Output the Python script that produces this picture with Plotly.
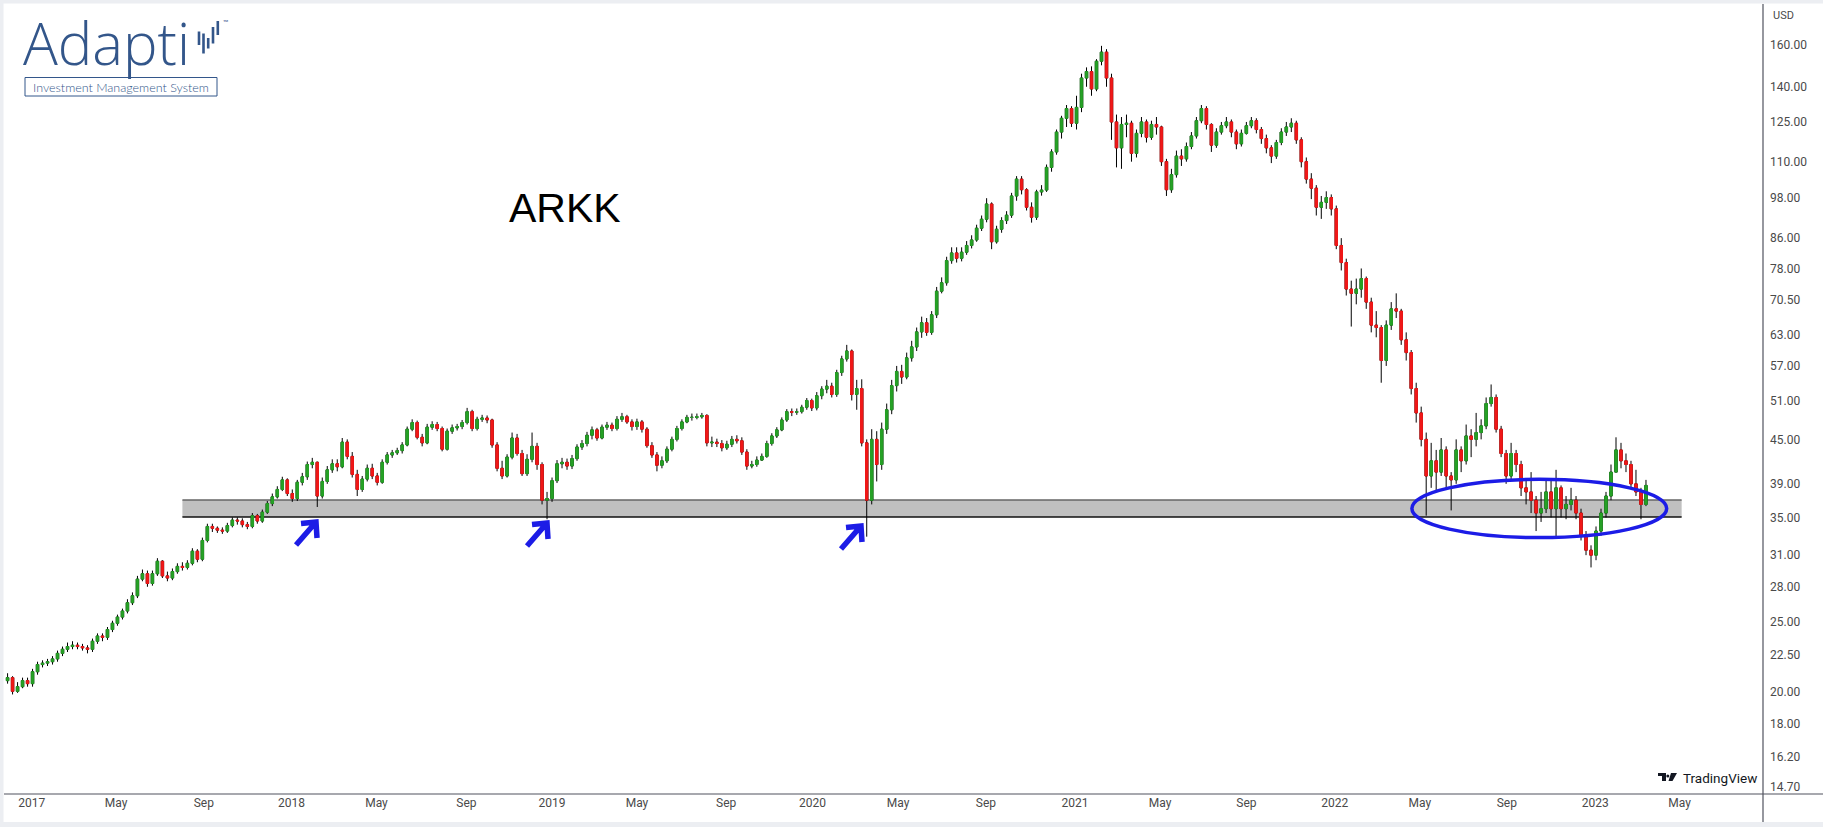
import math
import pandas as pd
import plotly.graph_objects as go

# ---------------- data: weekly OHLC of ARKK ----------------
week_start = "2016-11-30"   # first weekly bar (weeks centred on Wednesdays)

open_2016 = [20.7, 20.9, 20.0, 20.3, 20.7]
high_2016 = [21.2, 21.0, 20.6, 20.9, 20.9]
low_2016 = [20.5, 19.8, 19.9, 20.2, 20.3]
close_2016 = [20.9, 20.0, 20.3, 20.7, 20.5]

open_2017 = [20.5, 21.3, 21.8, 21.9, 22.0, 22.2, 22.6, 22.9, 23.1, 23.2, 23.1, 23.0, 22.9, 23.5, 23.9, 23.8, 24.4, 24.9,
             25.4, 25.9, 26.6, 27.2, 28.7, 29.2, 28.3, 29.2, 30.4, 29.0, 28.8, 29.4, 29.9, 29.8, 30.2, 31.4, 30.6, 32.5,
             34.0, 33.8, 33.6, 33.5, 34.1, 34.7, 34.6, 34.2, 34.0, 35.2, 34.6, 35.6, 36.6, 37.4, 38.3, 39.5]
high_2017 = [21.5, 22.0, 22.1, 22.2, 22.4, 22.8, 23.1, 23.4, 23.5, 23.4, 23.3, 23.2, 23.7, 24.1, 24.1, 24.6, 25.1, 25.6,
             26.1, 26.9, 27.5, 29.0, 29.6, 29.5, 29.5, 30.7, 30.5, 29.4, 29.7, 30.2, 30.3, 30.5, 31.7, 31.6, 32.8, 34.3,
             34.3, 34.0, 33.9, 34.4, 35.0, 35.0, 34.9, 34.5, 35.5, 35.4, 35.9, 36.9, 37.8, 38.7, 39.9, 39.7]
low_2017 = [20.3, 21.1, 21.6, 21.7, 21.8, 22.0, 22.4, 22.7, 22.9, 22.9, 22.8, 22.6, 22.7, 23.3, 23.5, 23.6, 24.2, 24.7,
            25.2, 25.7, 26.4, 27.0, 28.5, 28.0, 28.1, 29.0, 28.8, 28.5, 28.6, 29.2, 29.5, 29.6, 30.0, 30.3, 30.4, 32.3,
            33.4, 33.3, 33.2, 33.3, 33.9, 34.2, 33.9, 33.7, 33.8, 34.3, 34.4, 35.4, 36.3, 37.2, 38.1, 37.5]
close_2017 = [21.3, 21.8, 21.9, 22.0, 22.2, 22.6, 22.9, 23.1, 23.2, 23.1, 23.0, 22.9, 23.5, 23.9, 23.8, 24.4, 24.9, 25.4,
              25.9, 26.6, 27.2, 28.7, 29.2, 28.3, 29.2, 30.4, 29.0, 28.8, 29.4, 29.9, 29.8, 30.2, 31.4, 30.6, 32.5, 34.0,
              33.8, 33.6, 33.5, 34.1, 34.7, 34.6, 34.2, 34.0, 35.2, 34.6, 35.6, 36.6, 37.4, 38.3, 39.5, 37.8]

open_2018 = [37.8, 37.2, 39.2, 39.9, 41.5, 41.8, 37.5, 39.3, 40.8, 41.6, 41.2, 44.6, 42.6, 40.2, 38.3, 39.6, 41.0, 40.0,
             39.2, 41.8, 42.8, 43.1, 43.4, 44.2, 46.5, 47.5, 45.3, 44.5, 46.8, 47.2, 46.6, 43.6, 46.2, 46.7, 46.9, 47.5,
             49.2, 46.6, 48.0, 48.2, 47.9, 44.2, 41.0, 40.0, 42.5, 45.2, 43.0, 40.3, 42.2, 44.0, 41.5, 37.0]
high_2018 = [38.3, 39.5, 40.4, 41.9, 42.4, 41.9, 39.8, 41.3, 42.2, 42.2, 45.2, 45.0, 43.2, 40.8, 40.0, 41.5, 41.6, 40.4,
             42.2, 43.2, 43.5, 43.8, 44.6, 46.9, 48.0, 47.8, 45.8, 47.3, 47.7, 47.6, 46.9, 46.6, 47.2, 47.3, 47.9, 49.8,
             49.5, 48.4, 48.7, 48.6, 48.1, 44.6, 42.0, 42.9, 46.0, 45.8, 43.5, 42.9, 46.0, 44.5, 41.8, 38.0]
low_2018 = [36.8, 36.9, 38.8, 39.5, 41.0, 36.2, 37.2, 39.0, 40.4, 40.6, 41.0, 42.2, 39.8, 37.5, 38.0, 39.3, 39.6, 38.8,
            39.0, 41.5, 42.4, 42.8, 43.0, 44.0, 46.2, 45.0, 44.0, 44.3, 46.4, 46.2, 43.3, 43.4, 45.8, 46.3, 46.5, 47.2,
            46.2, 46.3, 47.6, 47.4, 43.8, 40.6, 39.6, 39.8, 42.2, 42.7, 40.0, 40.0, 41.8, 40.8, 36.5, 34.8]
close_2018 = [37.2, 39.2, 39.9, 41.5, 41.8, 37.5, 39.3, 40.8, 41.6, 41.2, 44.6, 42.6, 40.2, 38.3, 39.6, 41.0, 40.0, 39.2,
              41.8, 42.8, 43.1, 43.4, 44.2, 46.5, 47.5, 45.3, 44.5, 46.8, 47.2, 46.6, 43.6, 46.2, 46.7, 46.9, 47.5, 49.2,
              46.6, 48.0, 48.2, 47.9, 44.2, 41.0, 40.0, 42.5, 45.2, 43.0, 40.3, 42.2, 44.0, 41.5, 37.0, 37.2]

open_2019 = [37.2, 39.4, 41.6, 41.8, 41.3, 42.3, 43.9, 44.4, 45.6, 46.4, 45.2, 46.8, 47.1, 46.6, 48.0, 48.4, 47.6, 46.9,
             47.6, 46.5, 44.1, 42.8, 41.4, 42.0, 43.6, 45.0, 46.6, 47.6, 48.3, 48.3, 48.4, 48.6, 44.5, 44.6, 44.4, 43.8,
             44.3, 45.0, 44.8, 43.2, 41.3, 41.5, 42.1, 42.6, 44.4, 45.5, 46.4, 47.9, 49.2, 49.1, 49.2, 49.9, 51.0]
high_2019 = [39.8, 42.1, 42.4, 42.3, 42.8, 44.3, 44.9, 46.1, 46.9, 46.7, 47.2, 47.6, 47.5, 48.5, 49.0, 48.7, 48.0, 48.1,
             47.9, 46.8, 44.6, 43.2, 42.6, 44.0, 45.4, 47.0, 48.0, 48.7, 48.9, 48.9, 49.0, 48.8, 45.4, 45.1, 44.9, 44.8,
             45.5, 45.6, 45.3, 43.6, 42.0, 42.6, 43.0, 44.8, 45.9, 46.8, 48.3, 49.6, 49.7, 49.7, 50.3, 51.4, 51.3]
low_2019 = [36.8, 39.1, 41.0, 40.8, 40.9, 42.0, 43.5, 44.0, 45.0, 44.8, 45.0, 46.4, 46.2, 46.3, 47.6, 47.3, 46.3, 46.4,
            46.0, 43.8, 42.4, 40.6, 41.0, 41.7, 43.3, 44.7, 46.3, 47.4, 47.8, 48.0, 48.1, 44.0, 43.9, 43.9, 43.3, 43.5,
            43.9, 44.4, 42.8, 40.8, 41.0, 41.2, 42.0, 42.4, 44.1, 45.2, 46.2, 47.6, 48.5, 48.7, 48.9, 49.5, 49.3]
close_2019 = [39.4, 41.6, 41.8, 41.3, 42.3, 43.9, 44.4, 45.6, 46.4, 45.2, 46.8, 47.1, 46.6, 48.0, 48.4, 47.6, 46.9, 47.6,
              46.5, 44.1, 42.8, 41.4, 42.0, 43.6, 45.0, 46.6, 47.6, 48.3, 48.3, 48.4, 48.6, 44.5, 44.6, 44.4, 43.8, 44.3,
              45.0, 44.8, 43.2, 41.3, 41.5, 42.1, 42.6, 44.4, 45.5, 46.4, 47.9, 49.2, 49.1, 49.2, 49.9, 51.0, 49.8]

open_2020 = [49.8, 51.8, 52.9, 53.4, 52.0, 55.8, 58.3, 59.8, 52.0, 53.0, 44.5, 37.0, 45.0, 41.5, 46.5, 49.5, 53.5, 56.0,
             55.0, 58.5, 60.6, 63.6, 65.5, 63.5, 67.2, 72.5, 74.5, 80.0, 82.0, 80.6, 82.2, 84.0, 85.5, 88.8, 91.4, 96.0,
             85.0, 88.5, 91.0, 92.6, 98.5, 104.0, 100.5, 95.0, 92.0, 99.8, 100.4, 108.0, 113.5, 121.0, 126.5, 130.5]
high_2020 = [52.4, 53.4, 54.5, 54.0, 56.3, 58.9, 61.0, 60.1, 54.5, 54.6, 45.0, 46.5, 46.2, 47.5, 50.5, 54.5, 57.0, 57.2,
             59.5, 61.8, 64.5, 66.8, 66.5, 68.0, 73.5, 75.8, 81.0, 83.5, 83.5, 83.5, 85.2, 86.8, 89.8, 92.5, 97.8, 96.5,
             89.5, 92.0, 93.8, 99.5, 105.0, 105.0, 101.0, 96.5, 100.5, 102.0, 109.0, 114.5, 122.0, 127.5, 132.0, 131.5]
low_2020 = [49.4, 51.2, 52.2, 51.5, 51.6, 55.2, 57.8, 51.0, 49.5, 44.0, 32.9, 36.5, 39.3, 40.8, 45.8, 48.8, 52.5, 53.8,
            54.6, 57.8, 59.8, 62.4, 62.8, 63.0, 66.5, 72.0, 73.8, 79.2, 79.5, 79.8, 81.5, 83.2, 85.0, 88.0, 90.5, 83.0,
            84.5, 87.5, 90.0, 91.8, 97.0, 99.0, 94.0, 90.4, 91.2, 98.6, 99.8, 106.5, 112.5, 118.5, 123.0, 123.0]
close_2020 = [51.8, 52.9, 53.4, 52.0, 55.8, 58.3, 59.8, 52.0, 53.0, 44.5, 37.0, 45.0, 41.5, 46.5, 49.5, 53.5, 56.0, 55.0,
              58.5, 60.6, 63.6, 65.5, 63.5, 67.2, 72.5, 74.5, 80.0, 82.0, 80.6, 82.2, 84.0, 85.5, 88.8, 91.4, 96.0, 85.0,
              88.5, 91.0, 92.6, 98.5, 104.0, 100.5, 95.0, 92.0, 99.8, 100.4, 108.0, 113.5, 121.0, 126.5, 130.5, 124.5]

open_2021 = [124.5, 131.0, 144.0, 147.0, 139.0, 152.0, 156.5, 144.0, 125.0, 115.0, 124.0, 124.5, 113.0, 120.5, 125.0,
             119.0, 124.0, 123.0, 110.0, 100.5, 105.5, 112.0, 111.0, 115.5, 119.5, 125.5, 130.5, 124.0, 116.0, 121.0,
             123.5, 125.0, 121.0, 116.5, 120.5, 123.5, 125.5, 122.0, 118.5, 115.0, 112.0, 117.0, 121.0, 123.0, 124.5,
             118.0, 110.0, 104.0, 101.0, 95.0, 96.5, 98.0]
high_2021 = [136.0, 146.0, 149.0, 149.5, 153.0, 159.7, 158.0, 146.0, 128.0, 127.0, 128.0, 125.5, 122.0, 127.0, 126.0,
             125.5, 127.0, 123.5, 111.0, 107.5, 114.0, 114.5, 117.0, 121.0, 127.0, 132.0, 131.5, 124.5, 122.5, 125.0,
             127.0, 126.0, 122.0, 122.0, 125.0, 127.0, 126.5, 123.0, 120.0, 116.0, 118.0, 122.5, 125.0, 126.5, 125.5,
             119.0, 111.5, 106.0, 102.0, 98.5, 100.0, 99.0]
low_2021 = [122.0, 129.0, 140.0, 136.0, 138.0, 150.0, 140.0, 118.0, 108.0, 107.5, 119.0, 110.0, 111.5, 119.0, 117.0,
            118.0, 120.0, 108.5, 98.5, 99.5, 104.5, 108.5, 110.0, 114.5, 118.5, 124.5, 122.0, 113.5, 115.0, 120.0,
            122.5, 119.0, 114.5, 115.5, 120.0, 122.5, 120.5, 116.5, 113.0, 109.5, 111.0, 116.0, 119.5, 121.0, 116.5,
            108.0, 102.5, 97.5, 92.5, 91.5, 94.5, 92.5]
close_2021 = [131.0, 144.0, 147.0, 139.0, 152.0, 156.5, 144.0, 125.0, 115.0, 124.0, 124.5, 113.0, 120.5, 125.0, 119.0,
              124.0, 123.0, 110.0, 100.5, 105.5, 112.0, 111.0, 115.5, 119.5, 125.5, 130.5, 124.0, 116.0, 121.0, 123.5,
              125.0, 121.0, 116.5, 120.5, 123.5, 125.5, 122.0, 118.5, 115.0, 112.0, 117.0, 121.0, 123.0, 124.5, 118.0,
              110.0, 104.0, 101.0, 95.0, 96.5, 98.0, 94.5]

open_2022 = [94.5, 84.0, 79.5, 73.0, 72.0, 73.0, 75.5, 70.0, 65.0, 64.5, 58.0, 65.0, 68.5, 68.0, 62.0, 59.5, 53.0, 49.0,
             45.0, 40.0, 42.0, 40.5, 43.5, 40.0, 39.5, 43.5, 42.0, 45.5, 45.0, 46.0, 47.0, 50.5, 51.5, 46.5, 43.0, 40.0,
             43.0, 41.5, 38.5, 38.0, 37.0, 35.5, 36.0, 38.0, 36.0, 38.5, 36.0, 36.5, 37.0, 35.5, 33.0, 31.5]
high_2022 = [95.5, 86.0, 80.5, 75.0, 75.5, 78.0, 76.0, 71.0, 68.0, 65.0, 66.0, 70.0, 72.0, 68.5, 63.5, 60.0, 54.0, 50.0,
             46.0, 44.5, 43.5, 45.2, 44.0, 40.5, 45.0, 44.0, 47.2, 46.5, 49.0, 48.0, 51.5, 53.7, 52.0, 47.0, 43.5, 44.5,
             43.5, 42.0, 39.5, 40.5, 37.5, 38.0, 39.5, 39.5, 40.8, 38.8, 37.5, 38.5, 37.5, 36.0, 33.5, 32.0]
low_2022 = [83.0, 77.5, 71.5, 64.7, 69.5, 71.0, 68.5, 63.5, 62.5, 54.0, 57.0, 64.0, 66.5, 61.0, 58.0, 52.0, 47.5, 44.0,
            35.2, 38.5, 38.0, 40.0, 38.5, 35.8, 39.0, 40.5, 41.5, 42.5, 44.0, 45.0, 46.5, 50.0, 46.0, 42.5, 39.0, 39.5,
            40.5, 37.5, 36.5, 35.5, 33.5, 34.5, 35.5, 35.0, 32.7, 35.0, 34.8, 35.8, 34.8, 32.5, 31.0, 29.8]
close_2022 = [84.0, 79.5, 73.0, 72.0, 73.0, 75.5, 70.0, 65.0, 64.5, 58.0, 65.0, 68.5, 68.0, 62.0, 59.5, 53.0, 49.0, 45.0,
              40.0, 42.0, 40.5, 43.5, 40.0, 39.5, 43.5, 42.0, 45.5, 45.0, 46.0, 47.0, 50.5, 51.5, 46.5, 43.0, 40.0, 43.0,
              41.5, 38.5, 38.0, 37.0, 35.5, 36.0, 38.0, 36.0, 38.5, 36.0, 36.5, 37.0, 35.5, 33.0, 31.5, 31.0]

open_2023 = [31.0, 33.5, 35.5, 37.5, 40.5, 43.5, 42.0, 41.5, 39.0, 38.0, 36.5]
high_2023 = [34.0, 36.0, 38.0, 41.5, 45.3, 44.5, 43.0, 42.0, 40.8, 38.5, 39.5]
low_2023 = [30.5, 33.0, 35.0, 37.0, 40.5, 41.0, 40.5, 38.5, 37.5, 34.8, 36.3]
close_2023 = [33.5, 35.5, 37.5, 40.5, 43.5, 42.0, 41.5, 39.0, 38.0, 36.5, 38.8]

# support band, highlight ellipse and arrow targets
band_low, band_high = 35.05, 37.03
band_start, band_end = "2017-08-02", "2023-05-04"
ellipse_x = ["2022-04-21", "2023-04-13"]
ellipse_y = [32.8, 39.57]

price_ticks = [160, 140, 125, 110, 98, 86, 78, 70.5, 63, 57, 51, 45, 39, 35, 31, 28, 25, 22.5, 20, 18, 16.2, 14.7]
time_ticks = ["2017-01-03", "2017-05-01", "2017-09-01", "2018-01-02", "2018-05-01", "2018-09-04",
              "2019-01-02", "2019-05-01", "2019-09-03", "2020-01-02", "2020-05-01", "2020-09-01",
              "2021-01-04", "2021-05-03", "2021-09-01", "2022-01-03", "2022-05-02", "2022-09-01",
              "2023-01-03", "2023-05-01"]
time_labels = ["2017", "May", "Sep", "2018", "May", "Sep", "2019", "May", "Sep", "2020", "May", "Sep",
               "2021", "May", "Sep", "2022", "May", "Sep", "2023", "May"]

# ---------------- assemble ----------------
opens = open_2016 + open_2017 + open_2018 + open_2019 + open_2020 + open_2021 + open_2022 + open_2023
highs = high_2016 + high_2017 + high_2018 + high_2019 + high_2020 + high_2021 + high_2022 + high_2023
lows = low_2016 + low_2017 + low_2018 + low_2019 + low_2020 + low_2021 + low_2022 + low_2023
closes = close_2016 + close_2017 + close_2018 + close_2019 + close_2020 + close_2021 + close_2022 + close_2023
dates = pd.date_range(week_start, periods=len(closes), freq="7D")
body_top = [max(o, c) for o, c in zip(opens, closes)]
body_bot = [min(o, c) for o, c in zip(opens, closes)]
wick_top = [max(h, t) for h, t in zip(highs, body_top)]
wick_bot = [min(l, b) for l, b in zip(lows, body_bot)]

W, H = 1823, 827
PL, PR, PT, PB = 4, 1763, 4, 794          # plot area in pixels


def px(x):
    return (x - PL) / (PR - PL)


def py(y):
    return (PB - y) / (PB - PT)


GREEN = "#26a126"
RED = "#f01818"
BLUE = "#1c1ce6"
LOGO = "#33568a"

fig = go.Figure()
# black wicks (and black body underlay)
fig.add_trace(go.Candlestick(
    x=dates, open=opens, high=wick_top, low=wick_bot, close=closes,
    increasing=dict(line=dict(color="#000000", width=1), fillcolor="#000000"),
    decreasing=dict(line=dict(color="#000000", width=1), fillcolor="#000000"),
    whiskerwidth=0, hoverinfo="skip", showlegend=False))
# coloured bodies
fig.add_trace(go.Candlestick(
    x=dates, open=opens, high=body_top, low=body_bot, close=closes,
    increasing=dict(line=dict(color=GREEN, width=1), fillcolor=GREEN),
    decreasing=dict(line=dict(color=RED, width=1), fillcolor=RED),
    whiskerwidth=0, showlegend=False, name="ARKK"))

shapes = []
# support band
shapes.append(dict(type="rect", xref="x", yref="y", x0=band_start, x1=band_end, y0=band_low, y1=band_high,
                   fillcolor="#c0c0c0", line=dict(width=0), layer="below"))
shapes.append(dict(type="line", xref="x", yref="y", x0=band_start, x1=band_end, y0=band_high, y1=band_high,
                   line=dict(color="#666666", width=1.6), layer="below"))
shapes.append(dict(type="line", xref="x", yref="y", x0=band_start, x1=band_end, y0=band_low, y1=band_low,
                   line=dict(color="#111111", width=1.6), layer="below"))
# ellipse
shapes.append(dict(type="circle", xref="x", yref="y", x0=ellipse_x[0], x1=ellipse_x[1],
                   y0=ellipse_y[0], y1=ellipse_y[1], line=dict(color=BLUE, width=3.5)))

# arrows (pixel geometry of the hand-drawn marks)
for tipx, tipy in [(316, 522), (547, 523), (861, 526)]:
    tail = (tipx - 20, tipy + 23)
    arm_l = (tipx - 15, tipy + 1.5)
    arm_d = (tipx + 1, tipy + 16)
    path = (f"M {px(tail[0])},{py(tail[1])} L {px(tipx)},{py(tipy)} "
            f"M {px(arm_l[0])},{py(arm_l[1])} L {px(tipx)},{py(tipy)} L {px(arm_d[0])},{py(arm_d[1])}")
    shapes.append(dict(type="path", xref="paper", yref="paper", path=path, line=dict(color=BLUE, width=5.5)))

# page frame and axis lines
FRAME = "#eceef2"
shapes.append(dict(type="rect", xref="paper", yref="paper", x0=px(0), x1=px(W), y0=py(0), y1=py(PT - 0.5),
                   fillcolor=FRAME, line=dict(width=0)))
shapes.append(dict(type="rect", xref="paper", yref="paper", x0=px(0), x1=px(PL - 0.5), y0=py(H), y1=py(0),
                   fillcolor=FRAME, line=dict(width=0)))
shapes.append(dict(type="rect", xref="paper", yref="paper", x0=px(0), x1=px(W), y0=py(H), y1=py(822),
                   fillcolor=FRAME, line=dict(width=0)))
shapes.append(dict(type="line", xref="paper", yref="paper", x0=px(PL), x1=px(W), y0=py(PB), y1=py(PB),
                   line=dict(color="#50535e", width=1.2)))
shapes.append(dict(type="line", xref="paper", yref="paper", x0=px(PR), x1=px(PR), y0=py(PT), y1=py(822),
                   line=dict(color="#50535e", width=1.2)))

# logo: bars forming the "v"
for bx, y0, y1 in [(199, 31.5, 45), (203.5, 33.5, 53.5), (208.2, 38, 48.5), (213, 27, 43.5), (217.8, 21, 35)]:
    shapes.append(dict(type="line", xref="paper", yref="paper", x0=px(bx), x1=px(bx), y0=py(y0), y1=py(y1),
                       line=dict(color=LOGO, width=2.6)))
shapes.append(dict(type="rect", xref="paper", yref="paper", x0=px(25), x1=px(217), y0=py(96), y1=py(77.5),
                   line=dict(color=LOGO, width=1)))
# TradingView mark
tv_path = (f"M {px(1658)},{py(773)} L {px(1666)},{py(773)} L {px(1666)},{py(781)} L {px(1662)},{py(781)} "
           f"L {px(1662)},{py(776)} L {px(1658)},{py(776)} Z "
           f"M {px(1671)},{py(773)} L {px(1677)},{py(773)} L {px(1672.5)},{py(781)} L {px(1668.5)},{py(781)} Z")
shapes.append(dict(type="path", xref="paper", yref="paper", path=tv_path, fillcolor="#131722",
                   line=dict(width=0)))
shapes.append(dict(type="circle", xref="paper", yref="paper", x0=px(1666.3), x1=px(1669.3), y0=py(777.5),
                   y1=py(774.5), fillcolor="#131722", line=dict(width=0)))

annotations = [
    dict(text="ARKK", xref="paper", yref="paper", x=px(565), y=py(208), showarrow=False,
         font=dict(family="Liberation Sans, Arial, sans-serif", size=41, color="#000000"),
         xanchor="center", yanchor="middle"),
    dict(text="Adapti", xref="paper", yref="paper", x=px(21), y=py(42), showarrow=False,
         font=dict(family="Open Sans, sans-serif", size=58, color=LOGO, weight=300),
         xanchor="left", yanchor="middle"),
    dict(text="™", xref="paper", yref="paper", x=px(221), y=py(22), showarrow=False,
         font=dict(family="Lato, sans-serif", size=7, color=LOGO), xanchor="left", yanchor="middle"),
    dict(text="Investment Management System", xref="paper", yref="paper", x=px(121), y=py(87),
         showarrow=False, font=dict(family="Lato, sans-serif", size=12.5, color=LOGO, weight=300),
         xanchor="center", yanchor="middle"),
    dict(text="TradingView", xref="paper", yref="paper", x=px(1681), y=py(777.5), showarrow=False,
         font=dict(family="Roboto, sans-serif", size=13.5, color="#131722"), xanchor="left", yanchor="middle"),
    dict(text="USD", xref="paper", yref="paper", x=px(1771), y=py(16), showarrow=False,
         font=dict(family="Roboto, sans-serif", size=11, color="#4a4a4a"), xanchor="left", yanchor="middle"),
]

fig.update_layout(
    width=W, height=H,
    margin=dict(l=PL, r=W - PR, t=PT, b=H - PB),
    paper_bgcolor="#ffffff", plot_bgcolor="#ffffff",
    showlegend=False,
    shapes=shapes, annotations=annotations,
    xaxis=dict(type="date", range=["2016-11-25", "2023-08-26"], rangeslider=dict(visible=False),
               showgrid=False, zeroline=False, showline=False, ticks="",
               tickmode="array", tickvals=time_ticks, ticktext=time_labels,
               tickfont=dict(family="Roboto, sans-serif", size=12, color="#4a4a4a")),
    yaxis=dict(type="log", range=[1.1575, 2.2618], side="right", showgrid=False, zeroline=False,
               showline=False, ticks="", tickmode="array", tickvals=price_ticks,
               ticktext=[f"{v:.2f}" for v in price_ticks], ticklabelstandoff=6,
               tickfont=dict(family="Roboto, sans-serif", size=12, color="#4a4a4a")),
    hovermode=False,
)

fig.write_html("out.html", config={"displayModeBar": False})
